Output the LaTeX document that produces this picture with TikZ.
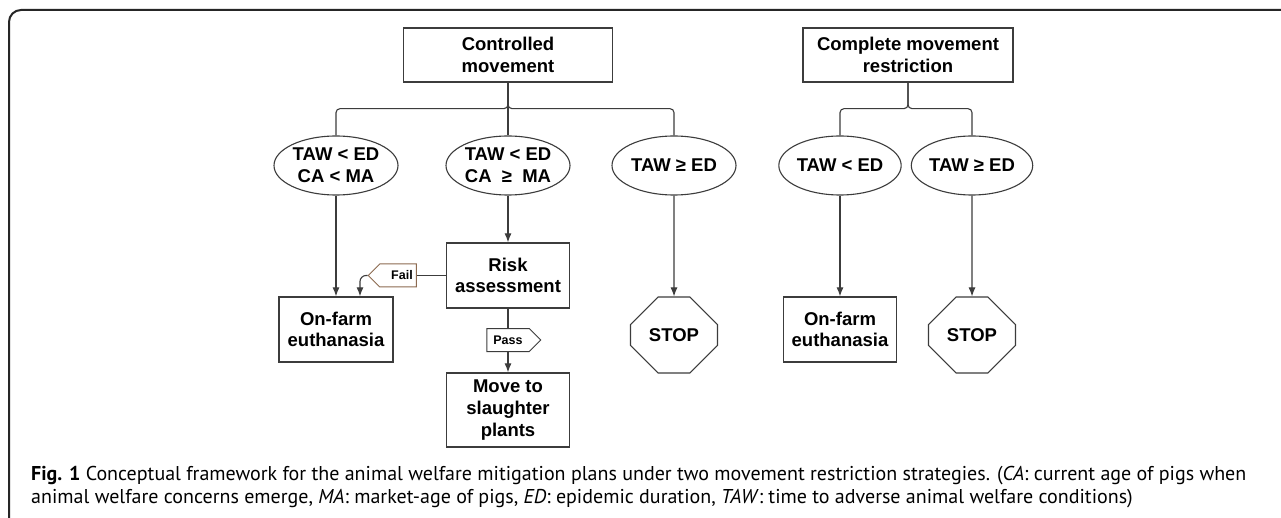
\documentclass[tikz,border=0pt]{standalone}
\usepackage{fontspec}
\setmainfont{Liberation Sans}
\newfontfamily\capfont{PT Sans}
\usetikzlibrary{shapes.geometric,shapes.symbols,shapes.misc,arrows.meta}
\definecolor{linegray}{HTML}{3C3C3C}
\definecolor{failbrown}{HTML}{8C6A50}

\begin{document}
\begin{tikzpicture}[x=1pt,y=-1pt,
  box/.style={draw=linegray,line width=1.3pt,align=center,inner sep=0pt,font=\fontsize{18.5}{21.7}\selectfont\bfseries},
  cond/.style={draw=linegray,ellipse,line width=1.1pt,minimum width=124pt,minimum height=59pt,inner sep=0pt,align=center,font=\fontsize{18.5}{21.7}\selectfont\bfseries},
  stopsign/.style={draw=linegray,chamfered rectangle,chamfered rectangle xsep=25pt,chamfered rectangle ysep=21pt,minimum width=87pt,minimum height=76pt,line width=1.1pt,inner sep=0pt,font=\fontsize{18.5}{21.7}\selectfont\bfseries},
  tag/.style={signal,draw=linegray,line width=1pt,fill=white,minimum height=23pt,inner sep=0pt,signal pointer angle=90,font=\fontsize{12.5}{14}\selectfont\bfseries},
  link/.style={draw=linegray,line width=1.1pt,rounded corners=4pt},
  arr/.style={draw=linegray,line width=1.1pt,->,>={Latex[length=9pt,width=7pt]}}]
\useasboundingbox[fill=white] (0,0) rectangle (1281,518);

% frame
\draw[line width=2pt,black!85,rounded corners=12pt] (9,520) -- (9,10) -- (1290,10);

% strategies
\node[box,minimum width=209pt,minimum height=54pt] (cm) at (508,55) {Controlled\\movement};
\node[box,minimum width=210pt,minimum height=54pt] (cr) at (908,55) {Complete movement\\restriction};

% conditions
\node[cond] (e1) at (336,165.5) {TAW < ED\\CA < MA};
\node[cond] (e2) at (508,165.5) {TAW < ED\\CA \ ≥ \ MA};
\node[cond] (e3) at (674,165.5) {TAW ≥ ED};
\node[cond,minimum width=120pt] (e4) at (840,165.5) {TAW < ED};
\node[cond,minimum width=116pt] (e5) at (972,165.5) {TAW ≥ ED};

% outcomes
\node[box,minimum width=114pt,minimum height=65pt] (of1) at (336,329.5) {On-farm\\euthanasia};
\node[box,minimum width=123pt,minimum height=65pt] (risk) at (508,275.5) {Risk\\assessment};
\node[box,minimum width=123pt,minimum height=74pt] (move) at (508,410) {Move to\\slaughter\\plants};
\node[stopsign] (stop1) at (674,335) {STOP};
\node[box,minimum width=113pt,minimum height=65pt] (of2) at (840,329.5) {On-farm\\euthanasia};
\node[stopsign] (stop2) at (972,335) {STOP};

\path[link] (cm.south) -- ++(0,26) -| (e1.north);
\path[link] (cm.south) -- (e2.north);
\path[link] (cm.south) -- ++(0,26) -| (e3.north);
\path[link] (cr.south) -- ++(0,26) -| (e4.north);
\path[link] (cr.south) -- ++(0,26) -| (e5.north);

\path[arr] (e1) -- (of1);
\path[arr] (e2) -- (risk);
\path[arr] (e3) -- (stop1);
\path[arr] (e4) -- (of2);
\path[arr] (e5) -- (stop2);

% fail / pass
\node[tag,draw=failbrown,signal to=west,signal from=nowhere,minimum width=48pt] (fail) at (398,275.5) {\hspace{8pt}Fail};
\node[tag,signal to=east,signal from=nowhere,minimum width=54pt] (pass) at (508,340) {Pass\hspace{8pt}};
\path[draw=linegray,line width=1.1pt] (risk.west) -- (fail.east);
\path[arr,rounded corners=6pt] (fail.west) -| ([xshift=24pt]of1.north);
\path[draw=linegray,line width=1.1pt] (risk.south) -- (pass.north);
\path[arr] (pass.south) -- (move.north);

% caption
\node[anchor=base west,inner sep=0pt,font=\capfont\fontsize{20}{23}\selectfont] (cap1) at (31,480)
  {\textbf{Fig. 1} Conceptual framework for the animal welfare mitigation plans under two movement restriction strategies. (\textit{CA}: current age of pigs when};
\node[anchor=base west,inner sep=0pt,font=\capfont\fontsize{20}{23}\selectfont] (cap2) at (31,503)
  {animal welfare concerns emerge, \textit{MA}: market-age of pigs, \textit{ED}: epidemic duration, \textit{TAW}: time to adverse animal welfare conditions)};
\end{tikzpicture}
\end{document}
